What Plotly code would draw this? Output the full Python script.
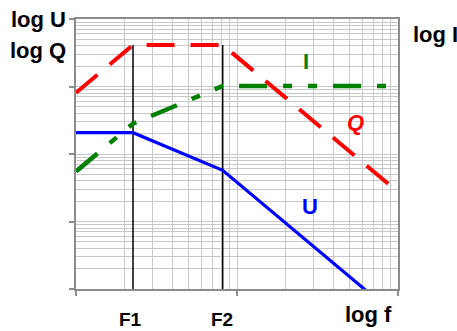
import plotly.graph_objects as go

# Data (log-log asymptotic frequency response)
F1 = 2.26
F2 = 8.15
freq = [1, F1, F2, 100]
Q_vals = [807, 4121, 4121, 27.4]
I_vals = [55.2, 282, 1016, 1016]
U_vals = [207, 207, 57.4, 0.381]
marker_bottom = 1
marker_top = 4121

W, H = 457, 331
L, R, T, B = 76, 59, 19, 42
pw, ph = W - L - R, H - T - B

def px(x):
    return (x - L) / pw

def py(y):
    return (H - B - y) / ph

fig = go.Figure()
for f in (F1, F2):
    fig.add_trace(go.Scatter(x=[f, f], y=[marker_bottom, marker_top], mode="lines",
                             line=dict(color="black", width=1.5), showlegend=False,
                             hoverinfo="skip"))
fig.add_trace(go.Scatter(x=freq, y=U_vals, mode="lines", name="U",
                         line=dict(color="#0000FF", width=3.2)))
fig.add_trace(go.Scatter(x=freq, y=I_vals, mode="lines", name="I",
                         line=dict(color="#008000", width=4.5,
                                   dash="28px,16px,9px,16px,9px,16px")))
fig.add_trace(go.Scatter(x=freq, y=Q_vals, mode="lines", name="Q",
                         line=dict(color="#FF0000", width=4, dash="28px,16px")))

grid = "#c8c8c8"
axis_common = dict(
    type="log", showticklabels=False, showline=True, mirror=True,
    linecolor="#8c8c8c", linewidth=1.5, ticks="outside", ticklen=5,
    tickcolor="#8c8c8c", tickwidth=1.5, showgrid=True, gridcolor=grid,
    gridwidth=1, zeroline=False, dtick=1,
    minor=dict(dtick="D1", showgrid=True, gridcolor=grid, gridwidth=1, ticks=""),
)
fig.update_xaxes(range=[0, 2], **axis_common)
fig.update_yaxes(range=[0, 4], **axis_common)

fam = "Liberation Sans, Arial, sans-serif"
big = dict(family=fam, size=22, color="black")
mid = dict(family=fam, size=19, color="black")
ann = [
    dict(text="<b>log U</b>", x=px(68), y=py(19), xanchor="right", font=big),
    dict(text="<b>log Q</b>", x=px(68), y=py(51), xanchor="right", font=big),
    dict(text="<b>log I</b>", x=px(411), y=py(35), xanchor="left", font=big),
    dict(text="<b>F1</b>", x=px(130), y=py(319.5), xanchor="center", font=mid, borderpad=0),
    dict(text="<b>F2</b>", x=px(222), y=py(319.5), xanchor="center", font=mid, borderpad=0),
    dict(text="<b>log f</b>", x=px(368), y=py(314), xanchor="center", font=big),
    dict(text="<b>I</b>", x=px(306), y=py(62), xanchor="center", font=dict(big, color="#008000")),
    dict(text="<b><i>Q</i></b>", x=px(355), y=py(122), xanchor="center", font=dict(big, color="#FF0000")),
    dict(text="<b>U</b>", x=px(310), y=py(206), xanchor="center", font=dict(big, color="#0000FF")),
]
annotations = [dict(xref="paper", yref="paper", yanchor="middle", showarrow=False, **a) for a in ann]

fig.update_layout(
    width=W, height=H, margin=dict(l=L, r=R, t=T, b=B),
    paper_bgcolor="white", plot_bgcolor="white", showlegend=False,
    annotations=annotations,
)
fig.write_html("out.html", config={"displayModeBar": False},
               post_script="document.body.style.margin='0';document.body.style.overflow='hidden';")
